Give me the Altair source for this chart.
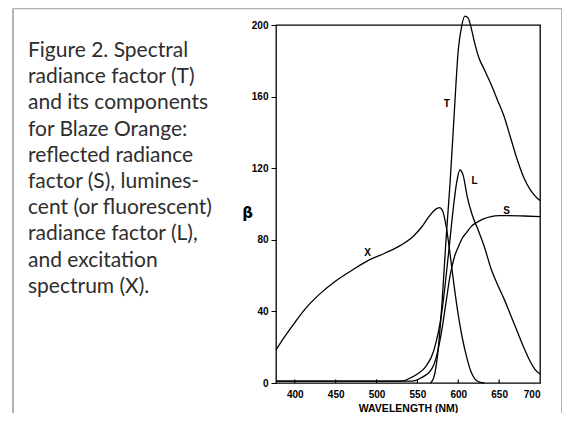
import altair as alt
import pandas as pd

# ---- data (wavelength nm, beta) ----
x_nm = [377, 387, 398, 412, 430, 450, 470, 490, 510, 530, 545, 555, 565, 572, 577, 581, 585, 590, 595, 600, 605, 610, 615, 620, 626, 632]
x_val = [18.5, 25.5, 32.5, 41, 49.5, 57, 63, 68.5, 72.5, 77, 82, 87, 93.5, 97, 98, 96, 88, 72, 54, 38, 25, 15, 7, 2.5, 0.5, 0]

t_nm = [566, 570, 575, 580, 585, 590, 595, 600, 604, 608, 612, 616, 620, 625, 632, 640, 648, 656, 664, 672, 680, 688, 695, 700]
t_val = [0, 3, 17, 44, 80, 112, 150, 186, 199, 205, 204, 198, 190, 182, 175, 167, 158, 149, 137, 125, 115, 108, 104, 102]

l_nm = [377, 520, 533, 540, 550, 560, 570, 580, 588, 594, 598, 602, 606, 611, 617, 623, 632, 640, 648, 656, 664, 672, 680, 688, 694, 700]
l_val = [1, 1, 1.2, 2.5, 5, 9, 18, 40, 72, 98, 112, 119, 116, 104, 94, 87, 76, 64, 55, 47, 38, 29, 20, 12, 7.5, 5]

s_nm = [377, 540, 547, 555, 562, 570, 575, 580, 585, 590, 595, 600, 605, 610, 616, 622, 630, 640, 650, 660, 680, 700]
s_val = [1, 1, 1.3, 3, 5, 10, 18, 30, 45, 60, 70, 76, 81, 84, 87.5, 89.5, 91.5, 93, 93.5, 93.5, 93.3, 93]

label_text = ["T", "L", "S", "X"]
label_nm = [586, 620, 659, 489]
label_val = [156, 113, 96, 72.5]

x_ticks = [400, 450, 500, 550, 600, 650, 700]
x_inner_ticks = [400, 450, 500, 550, 600, 650]
y_ticks = [0, 40, 80, 120, 160, 200]

caption_lines = [
    "Figure 2. Spectral",
    "radiance factor (T)",
    "and its components",
    "for Blaze Orange:",
    "reflected radiance",
    "factor (S), lumines-",
    "cent (or fluorescent)",
    "radiance factor (L),",
    "and excitation",
    "spectrum (X).",
]

rows = []
for name, nms, vals in [("X", x_nm, x_val), ("T", t_nm, t_val), ("L", l_nm, l_val), ("S", s_nm, s_val)]:
    for n, v in zip(nms, vals):
        rows.append({"series": name, "nm": n, "v": v})
df = pd.DataFrame(rows)
labels = pd.DataFrame({"t": label_text, "nm": label_nm, "v": label_val})
ticks_df = pd.DataFrame({"nm": x_inner_ticks})
caption_df = pd.DataFrame({"t": ["\n".join(caption_lines)]})

xscale = alt.Scale(domain=[377, 700], nice=False, zero=False)
yscale = alt.Scale(domain=[0, 200], nice=False)

FONT = "Liberation Sans"

lines = alt.Chart(df).mark_line(
    color="black", strokeWidth=1.3, interpolate="monotone", clip=False
).encode(
    x=alt.X("nm:Q", scale=xscale, axis=alt.Axis(
        values=x_ticks, title="WAVELENGTH (NM)", tickSize=0, domain=False, grid=False,
        labelFont=FONT, labelFontWeight="bold", labelFontSize=10, labelColor="black",
        labelPadding=6, titleFont=FONT, titleFontWeight="bold", titleFontSize=10.5,
        titleColor="black", titlePadding=4)),
    y=alt.Y("v:Q", scale=yscale, axis=alt.Axis(
        values=y_ticks, title="β", titleAngle=0, titleX=-29, titleY=187,
        titleAlign="center", titleBaseline="middle", titleFont="DejaVu Sans",
        titleFontWeight="bold", titleFontSize=15, titleColor="black",
        tickSize=5, tickColor="black", domain=False, grid=False,
        labelFont=FONT, labelFontWeight="bold", labelFontSize=10, labelColor="black",
        labelPadding=3)),
    detail="series:N",
)

inner_ticks = alt.Chart(ticks_df).mark_rule(color="black", strokeWidth=1.2).encode(
    x=alt.X("nm:Q", scale=xscale),
    y=alt.datum(0, scale=yscale),
    y2=alt.datum(2),
)

label_marks = alt.Chart(labels).mark_text(
    font=FONT, fontWeight="bold", fontSize=10, color="black"
).encode(
    x=alt.X("nm:Q", scale=xscale),
    y=alt.Y("v:Q", scale=yscale),
    text="t:N",
)

caption = alt.Chart(caption_df).mark_text(
    align="left", baseline="alphabetic", lineBreak="\n", lineHeight=26.2,
    font="Lato", fontSize=21, color="#2e2e2e"
).encode(x=alt.value(-248), y=alt.value(32), text="t:N")

frame_src = pd.DataFrame({"a": [0]})
frame_left = alt.Chart(frame_src).mark_rule(color="#9a9a9a", strokeWidth=1.5).encode(
    x=alt.value(-263), y=alt.value(-16.5), y2=alt.value(400))
frame_right = alt.Chart(frame_src).mark_rule(color="#9a9a9a", strokeWidth=1.5).encode(
    x=alt.value(286), y=alt.value(-16.5), y2=alt.value(400))
frame_top = alt.Chart(frame_src).mark_rule(color="#b0b0b0", strokeWidth=1.5).encode(
    x=alt.value(-263), x2=alt.value(286), y=alt.value(-16.5))

chart = alt.layer(
    frame_left, frame_right, frame_top, caption, lines, inner_ticks, label_marks
).properties(
    width=264, height=358,
    padding={"left": 268, "top": 17, "right": 22, "bottom": 30},
    autosize=alt.AutoSizeParams(type="none"),
    background="white",
).configure_view(stroke="black", strokeWidth=1.3)

chart.save("out.html", embed_options={"renderer": "svg", "actions": False})
